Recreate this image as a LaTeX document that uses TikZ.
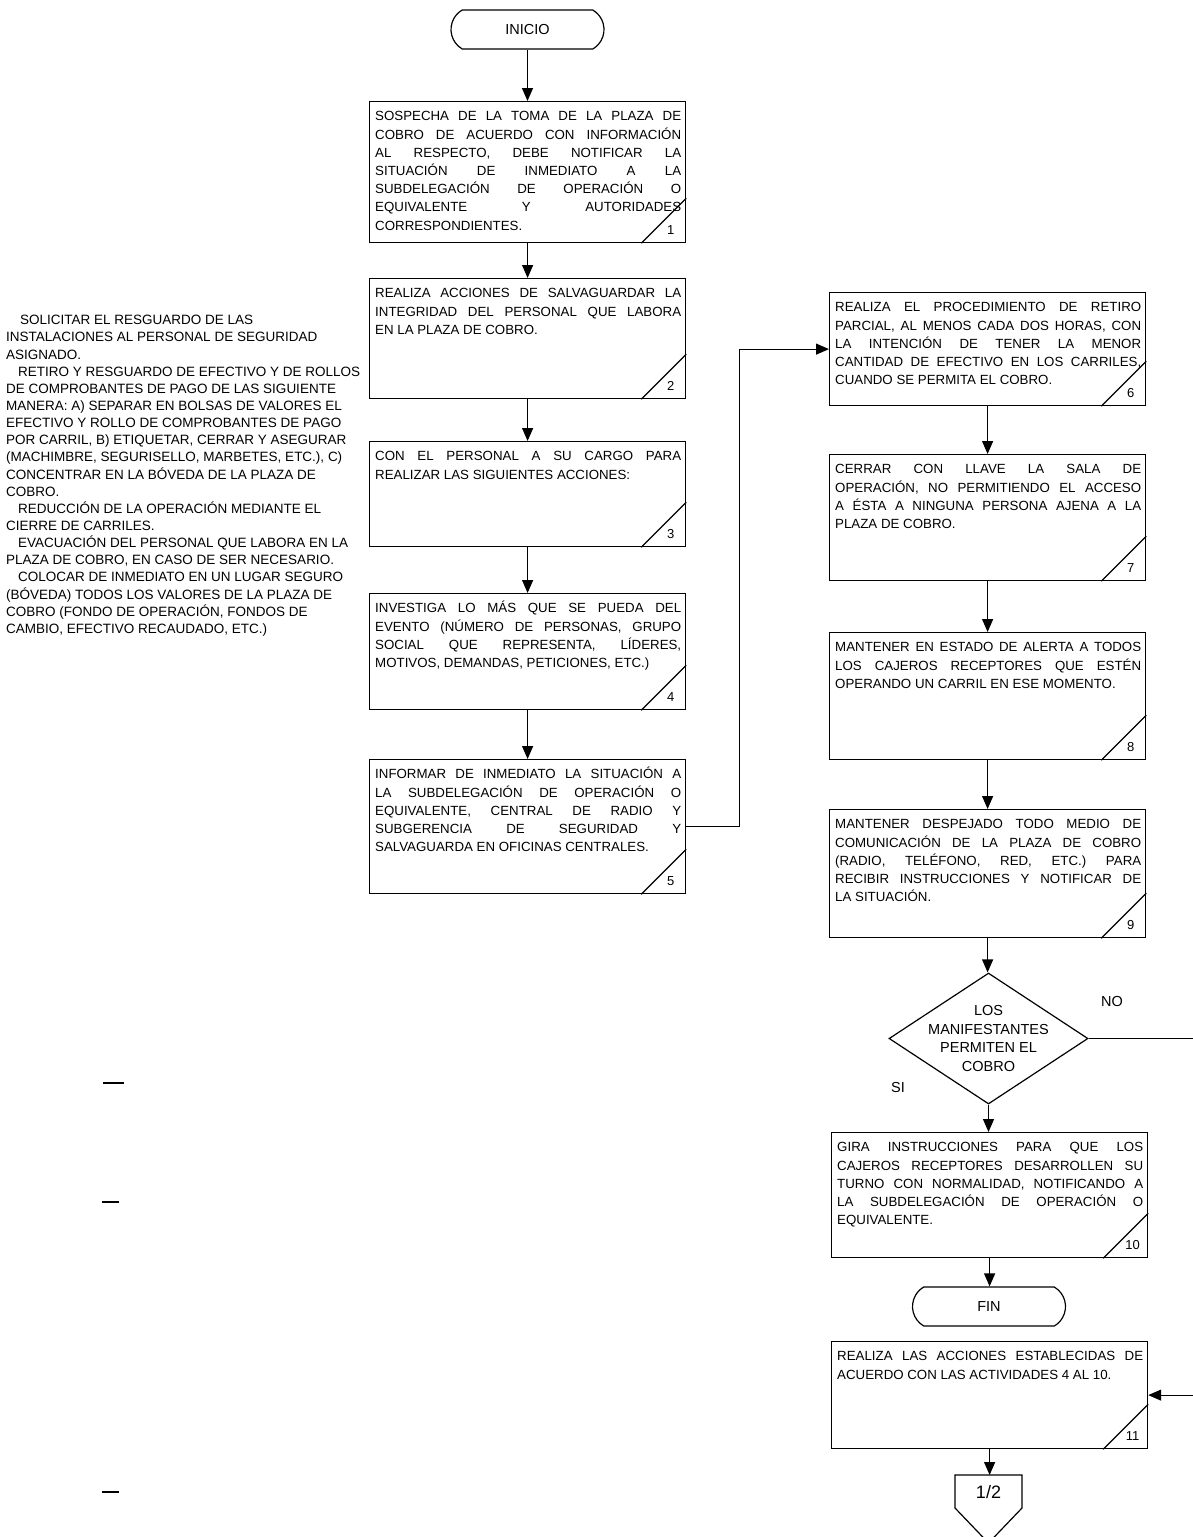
\documentclass[tikz,border=0pt]{standalone}
\usepackage{fontspec}
\setmainfont{Liberation Sans}
\usetikzlibrary{arrows.meta,shapes.geometric,shapes.misc}
\newlength\ptw \setlength\ptw{306pt}
\newcommand\jl[1]{\par\noindent\hbox to \ptw{\spaceskip=0pt\xspaceskip=0pt\rule{0pt}{13pt}#1}\par}
\newcommand\nl[1]{\par\noindent\hbox{\rule{0pt}{13pt}#1}\par}
\hbadness=10000 \hfuzz=20pt
\tikzset{
 pbox/.style={draw, line width=1.2pt, minimum width=316pt, inner sep=0pt, anchor=north west},
 ptext/.style={inner sep=0pt, anchor=north west, text width=\ptw, align=justify, font=\fontsize{13.3}{18.2}\selectfont},
 pnum/.style={inner sep=0pt, font=\fontsize{13}{15}\selectfont},
 term/.style={draw, rounded rectangle, rounded rectangle arc length=120, minimum width=153pt, minimum height=39pt, inner sep=0pt, font=\fontsize{14.5}{17}\selectfont, line width=1.2pt},
 conn/.style={line width=1.2pt, -{Triangle[width=11pt,length=13pt]}},
 plain/.style={line width=1.2pt},
 lbl/.style={inner sep=0pt, font=\fontsize{14.5}{17}\selectfont},
}
\newcommand\pstep[6]{%
 \node[pbox, minimum height=#4pt] (#1) at (#2,#3) {};
 \node[ptext] (#1t) at ([xshift=6pt,yshift=-1.5pt]#1.north west) {\parskip=0pt #6};
 \draw[plain] ([xshift=-45pt]#1.south east) -- ([yshift=45pt]#1.south east);
 \node[pnum] (#1n) at ([xshift=-15.5pt,yshift=13pt]#1.south east) {#5};
}
\begin{document}
\begin{tikzpicture}[x=1pt,y=-1pt]
\useasboundingbox[fill=white] (0,0) rectangle (1192,1537);

% side notes
\node[anchor=north west, inner sep=0pt, align=left, font=\fontsize{13.5}{17.15}\selectfont] (notes) at (6,311.5) {\rule{0pt}{13pt}\hspace*{14pt}SOLICITAR EL RESGUARDO DE LAS\\
INSTALACIONES AL PERSONAL DE SEGURIDAD\\
ASIGNADO.\\
\hspace*{12pt}RETIRO Y RESGUARDO DE EFECTIVO Y DE ROLLOS\\
DE COMPROBANTES DE PAGO DE LAS SIGUIENTE\\
MANERA: A) SEPARAR EN BOLSAS DE VALORES EL\\
EFECTIVO Y ROLLO DE COMPROBANTES DE PAGO\\
POR CARRIL, B) ETIQUETAR, CERRAR Y ASEGURAR\\
(MACHIMBRE, SEGURISELLO, MARBETES, ETC.), C)\\
CONCENTRAR EN LA BÓVEDA DE LA PLAZA DE\\
COBRO.\\
\hspace*{12pt}REDUCCIÓN DE LA OPERACIÓN MEDIANTE EL\\
CIERRE DE CARRILES.\\
\hspace*{12pt}EVACUACIÓN DEL PERSONAL QUE LABORA EN LA\\
PLAZA DE COBRO, EN CASO DE SER NECESARIO.\\
\hspace*{12pt}COLOCAR DE INMEDIATO EN UN LUGAR SEGURO\\
(BÓVEDA) TODOS LOS VALORES DE LA PLAZA DE\\
COBRO (FONDO DE OPERACIÓN, FONDOS DE\\
CAMBIO, EFECTIVO RECAUDADO, ETC.)};

% left column
\node[term] (ini) at (527.5,29.5) {INICIO};
\pstep{b1}{369}{101}{141}{1}{\jl{SOSPECHA DE LA TOMA DE LA PLAZA DE}\jl{COBRO DE ACUERDO CON INFORMACIÓN}\jl{AL RESPECTO, DEBE NOTIFICAR LA}\jl{SITUACIÓN DE INMEDIATO A LA}\jl{SUBDELEGACIÓN DE OPERACIÓN O}\jl{EQUIVALENTE Y AUTORIDADES}\nl{CORRESPONDIENTES.}}
\pstep{b2}{369}{278}{120}{2}{\jl{REALIZA ACCIONES DE SALVAGUARDAR LA}\jl{INTEGRIDAD DEL PERSONAL QUE LABORA}\nl{EN LA PLAZA DE COBRO.}}
\pstep{b3}{369}{441}{105}{3}{\jl{CON EL PERSONAL A SU CARGO PARA}\nl{REALIZAR LAS SIGUIENTES ACCIONES:}}
\pstep{b4}{369}{593}{116}{4}{\jl{INVESTIGA LO MÁS QUE SE PUEDA DEL}\jl{EVENTO (NÚMERO DE PERSONAS, GRUPO}\jl{SOCIAL QUE REPRESENTA, LÍDERES,}\nl{MOTIVOS, DEMANDAS, PETICIONES, ETC.)}}
\pstep{b5}{369}{759}{134}{5}{\jl{INFORMAR DE INMEDIATO LA SITUACIÓN A}\jl{LA SUBDELEGACIÓN DE OPERACIÓN O}\jl{EQUIVALENTE, CENTRAL DE RADIO Y}\jl{SUBGERENCIA DE SEGURIDAD Y}\nl{SALVAGUARDA EN OFICINAS CENTRALES.}}

% right column
\pstep{b6}{829}{292}{113}{6}{\jl{REALIZA EL PROCEDIMIENTO DE RETIRO}\jl{PARCIAL, AL MENOS CADA DOS HORAS, CON}\jl{LA INTENCIÓN DE TENER LA MENOR}\jl{CANTIDAD DE EFECTIVO EN LOS CARRILES,}\nl{CUANDO SE PERMITA EL COBRO.}}
\pstep{b7}{829}{454}{126}{7}{\jl{CERRAR CON LLAVE LA SALA DE}\jl{OPERACIÓN, NO PERMITIENDO EL ACCESO}\jl{A ÉSTA A NINGUNA PERSONA AJENA A LA}\nl{PLAZA DE COBRO.}}
\pstep{b8}{829}{632}{127}{8}{\jl{MANTENER EN ESTADO DE ALERTA A TODOS}\jl{LOS CAJEROS RECEPTORES QUE ESTÉN}\nl{OPERANDO UN CARRIL EN ESE MOMENTO.}}
\pstep{b9}{829}{809}{128}{9}{\jl{MANTENER DESPEJADO TODO MEDIO DE}\jl{COMUNICACIÓN DE LA PLAZA DE COBRO}\jl{(RADIO, TELÉFONO, RED, ETC.) PARA}\jl{RECIBIR INSTRUCCIONES Y NOTIFICAR DE}\nl{LA SITUACIÓN.}}
\node[draw, diamond, minimum width=199pt, minimum height=131pt, inner sep=0pt, line width=1.2pt] (d) at (988.5,1038.5) {};
\node[align=center, inner sep=0pt, font=\fontsize{14.5}{18.4}\selectfont] (dt) at (988.5,1038.5) {LOS\\MANIFESTANTES\\PERMITEN EL\\COBRO};
\node[lbl] (no) at (1112,1001) {NO};
\node[lbl] (si) at (898,1087) {SI};
\pstep{b10}{831}{1132}{125}{10}{\jl{GIRA INSTRUCCIONES PARA QUE LOS}\jl{CAJEROS RECEPTORES DESARROLLEN SU}\jl{TURNO CON NORMALIDAD, NOTIFICANDO A}\jl{LA SUBDELEGACIÓN DE OPERACIÓN O}\nl{EQUIVALENTE.}}
\node[term] (fin) at (989,1306.5) {FIN};
\pstep{b11}{831}{1341}{107}{11}{\jl{REALIZA LAS ACCIONES ESTABLECIDAS DE}\nl{ACUERDO CON LAS ACTIVIDADES 4 AL 10.}}

% off-page connector
\draw[plain] (955,1475) -- (1022,1475) -- (1022,1508) -- (988.5,1543) -- (955,1508) -- cycle;
\coordinate (pg) at (988.5,1475);
\node[inner sep=0pt, font=\fontsize{18}{20}\selectfont] (pgt) at (988.5,1492) {1/2};

% connectors
\draw[conn] (ini.south) -- (ini.south |- b1.north);
\draw[conn] (b1.south) -- (b2.north);
\draw[conn] (b2.south) -- (b3.north);
\draw[conn] (b3.south) -- (b4.north);
\draw[conn] (b4.south) -- (b5.north);
\draw[conn] (b5.east) -- ++(53,0) |- (b6.west);
\draw[conn] (b6.south) -- (b7.north);
\draw[conn] (b7.south) -- (b8.north);
\draw[conn] (b8.south) -- (b9.north);
\draw[conn] (b9.south) -- (b9.south |- d.north);
\draw[conn] (d.south) -- (d.south |- b10.north);
\draw[conn] (b10.south) -- (b10.south |- fin.north);
\draw[conn] (d.east) -- ++(112,0) |- (b11.east);
\draw[conn] (b11.south) -- (b11.south |- pg);

% stray marks
\draw[line width=2.5pt] (103,1083) -- (124,1083);
\draw[line width=1.8pt] (102,1202) -- (119,1202);
\draw[line width=1.8pt] (102,1492) -- (119,1492);
\end{tikzpicture}
\end{document}
